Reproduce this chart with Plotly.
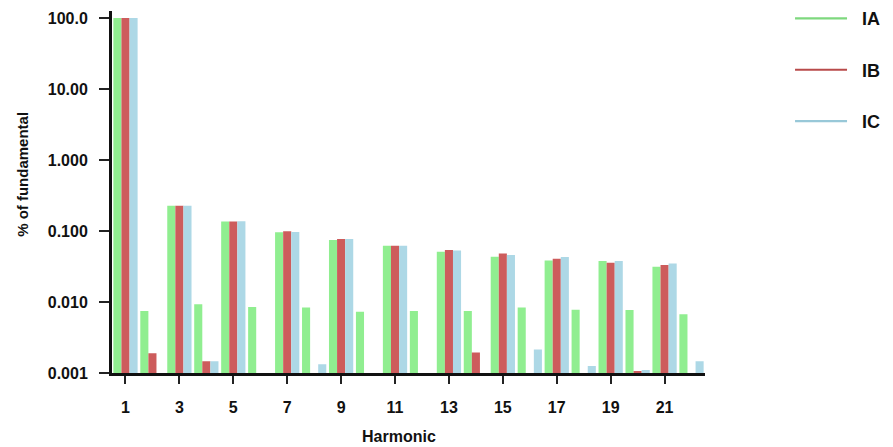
import plotly.graph_objects as go

harmonics = list(range(1, 23))
ia = [100, 0.0075, 0.228, 0.0093, 0.136, 0.0085, 0.096, 0.0084, 0.0748, 0.0073, 0.062,
      0.0075, 0.0512, 0.0075, 0.0434, 0.0084, 0.0386, 0.0078, 0.0378, 0.0077, 0.0314, 0.00675]
ib = [100, 0.0019, 0.228, 0.00146, 0.136, None, 0.099, None, 0.0773, None, 0.062,
      None, 0.054, 0.00195, 0.0484, None, 0.0407, None, 0.0358, 0.00107, 0.0332, None]
ic = [100, None, 0.228, 0.00146, 0.137, None, 0.097, 0.00133, 0.0773, None, 0.062,
      None, 0.053, None, 0.046, 0.00214, 0.043, 0.00126, 0.0378, 0.0011, 0.035, 0.00146]

series_names = ["IA", "IB", "IC"]
series_vals = [ia, ib, ic]
colors = ["#90EE90", "#CD5C5C", "#ADD8E6"]
line_colors = ["#7ED87E", "#B84A4A", "#98C8D8"]

y_tickvals = [0.001, 0.01, 0.1, 1, 10, 100]
y_ticktext = ["0.001", "0.010", "0.100", "1.000", "10.00", "100.0"]
x_tickvals = list(range(1, 22, 2))

fig = go.Figure()
for name, vals, c in zip(series_names, series_vals, colors):
    fig.add_trace(go.Bar(x=harmonics, y=vals, name=name, marker_color=c,
                         marker_line_width=0, showlegend=False))
for name, c in zip(series_names, line_colors):
    fig.add_trace(go.Scatter(x=[None], y=[None], mode="lines",
                             name="\u00a0\u00a0" + name,
                             line=dict(color=c, width=2.2), legendgroup=name,
                             showlegend=True))

font_family = "Liberation Sans, Arial, sans-serif"
fig.update_layout(
    width=893, height=447,
    margin=dict(l=104, r=196, t=3, b=82, autoexpand=False),
    plot_bgcolor="white", paper_bgcolor="white",
    barmode="group", bargap=0.1, bargroupgap=0,
    font=dict(family=font_family, color="#111111"),
    legend=dict(x=1.1434, y=1.03, xanchor="left", yanchor="top",
                font=dict(size=18, weight="bold", family=font_family),
                tracegroupgap=25, itemwidth=52, bgcolor="rgba(0,0,0,0)"),
    xaxis=dict(range=[0.5, 22.5], tickvals=x_tickvals, ticks="outside", ticklen=8,
               tickwidth=2, tickcolor="#222", showline=True, linecolor="#111",
               linewidth=3, showgrid=False, zeroline=False, ticklabelstandoff=10,
               tickfont=dict(size=16, weight="bold")),
    yaxis=dict(type="log", range=[-3, 2.1], tickvals=y_tickvals, ticktext=y_ticktext,
               ticks="outside", ticklen=10, tickwidth=2, tickcolor="#222",
               showline=True, linecolor="#111", linewidth=3, showgrid=False,
               zeroline=False, ticklabelstandoff=8,
               tickfont=dict(size=16, weight="bold")),
    annotations=[
        dict(text="% of fundamental", xref="paper", yref="paper", x=-0.152, y=0.5497,
             xanchor="center", yanchor="middle", textangle=-90, showarrow=False,
             font=dict(size=15, weight="bold")),
        dict(text="Harmonic", xref="paper", yref="paper", x=0.484, y=-0.175,
             xanchor="center", yanchor="middle", showarrow=False,
             font=dict(size=16, weight="bold")),
    ],
)

fig.write_html("out.html")
